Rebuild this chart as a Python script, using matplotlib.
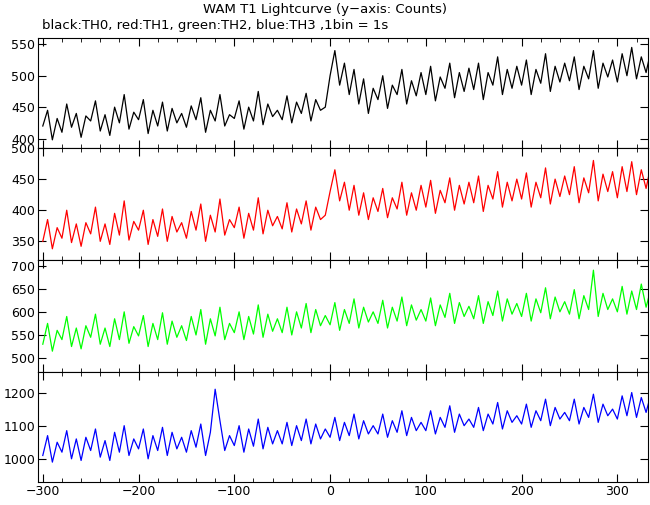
import matplotlib
matplotlib.use("Agg")
import matplotlib.pyplot as plt
import numpy as np

# time bins (s), 5-s resolution estimates
time = list(range(-300, 340, 5))

th0 = [420,445,398,432,410,455,418,440,402,436,
       428,460,412,438,405,450,425,470,415,442,
       430,462,408,445,420,458,412,448,425,440,
       418,452,430,465,410,445,428,470,420,438,
       432,460,415,450,428,475,422,455,435,445,
       430,468,425,458,440,472,428,462,445,450,
       500,540,485,520,470,510,455,495,440,480,
       462,500,448,485,470,510,455,492,468,505,
       470,515,460,498,480,520,465,505,475,512,
       478,520,462,505,485,530,470,510,480,515,
       485,525,470,510,488,535,475,515,490,520,
       492,530,478,515,495,540,480,520,498,525,
       490,535,500,545,495,530,505,540]
th1 = [350,385,338,372,355,400,348,378,342,380,
       362,405,350,378,345,395,360,415,352,382,
       368,400,345,385,358,402,350,390,365,380,
       355,398,368,410,350,392,365,418,360,385,
       372,405,355,395,368,420,362,400,375,390,
       370,412,365,402,378,415,368,405,385,392,
       430,465,415,445,400,440,392,428,385,420,
       398,435,388,420,402,445,392,428,400,440,
       405,448,395,432,412,452,400,440,410,445,
       412,455,398,440,418,462,405,445,415,450,
       418,460,405,445,420,468,410,450,422,455,
       425,470,412,452,428,480,415,458,430,462,
       420,470,430,478,425,465,435,472]
th2 = [530,575,515,560,540,590,525,565,520,570,
       545,595,530,565,525,585,540,600,532,568,
       548,592,525,575,540,598,530,580,545,570,
       538,590,550,605,530,585,548,610,540,575,
       555,600,540,590,552,615,545,595,558,585,
       555,610,550,600,565,618,555,605,570,592,
       572,620,560,605,575,628,565,610,578,600,
       575,625,565,610,580,632,570,615,582,605,
       580,630,570,615,588,640,575,620,590,612,
       585,635,575,622,592,645,580,628,595,618,
       590,640,580,628,598,652,585,632,600,622,
       595,648,585,635,605,690,590,640,605,628,
       600,655,595,645,605,660,610,650]
th3 = [1010,1070,990,1050,1020,1085,1000,1060,995,1065,
       1025,1090,1005,1055,995,1080,1020,1100,1010,1060,
       1030,1090,1000,1070,1025,1095,1010,1080,1030,1065,
       1020,1085,1035,1105,1010,1080,1210,1115,1025,1070,
       1040,1100,1020,1090,1038,1120,1030,1095,1045,1085,
       1045,1110,1040,1100,1055,1120,1045,1105,1060,1090,
       1065,1125,1055,1110,1070,1135,1060,1115,1075,1100,
       1075,1135,1065,1115,1080,1145,1070,1125,1085,1110,
       1085,1145,1075,1125,1095,1160,1080,1135,1100,1120,
       1095,1155,1085,1135,1105,1170,1090,1145,1110,1130,
       1105,1165,1095,1145,1115,1180,1100,1155,1120,1140,
       1115,1180,1105,1155,1125,1195,1110,1165,1130,1150,
       1120,1190,1130,1200,1125,1185,1140,1195]

series = [th0, th1, th2, th3]
colors = ["black", "red", "#00ff00", "blue"]
ylims = [(385, 560), (320, 500), (470, 712), (930, 1262)]
yticks = [[400, 450, 500, 550], [350, 400, 450, 500], [500, 550, 600, 650, 700], [1000, 1100, 1200]]

fig = plt.figure(figsize=(6.5, 5.05), dpi=100)
W, H = 650, 505
left, right = 38 / W, 648 / W
bounds = [38, 148, 260, 372, 482]
for i in range(4):
    top = 1 - bounds[i] / H
    bot = 1 - bounds[i + 1] / H
    ax = fig.add_axes([left, bot, right - left, top - bot])
    ax.plot(time, series[i], color=colors[i], lw=0.9)
    ax.set_xlim(-305, 332)
    ax.set_ylim(*ylims[i])
    ax.set_yticks(yticks[i])
    ax.set_xticks(range(-300, 301, 100))
    ax.set_xticks(range(-300, 331, 20), minor=True)
    ax.tick_params(which="both", direction="in", top=True, right=True, labelsize=9, pad=2)
    ax.tick_params(which="major", length=6)
    ax.tick_params(which="minor", length=3)
    if i < 3:
        ax.set_xticklabels([])

fig.text(0.5, 1 - 9 / H, "WAM T1 Lightcurve (y\u2212axis: Counts)", ha="center", va="center", fontsize=9.5)
fig.text(42 / W, 1 - 26 / H, "black:TH0, red:TH1, green:TH2, blue:TH3 ,1bin = 1s", ha="left", va="center", fontsize=9.5)
fig.savefig("out.png", dpi=100)
